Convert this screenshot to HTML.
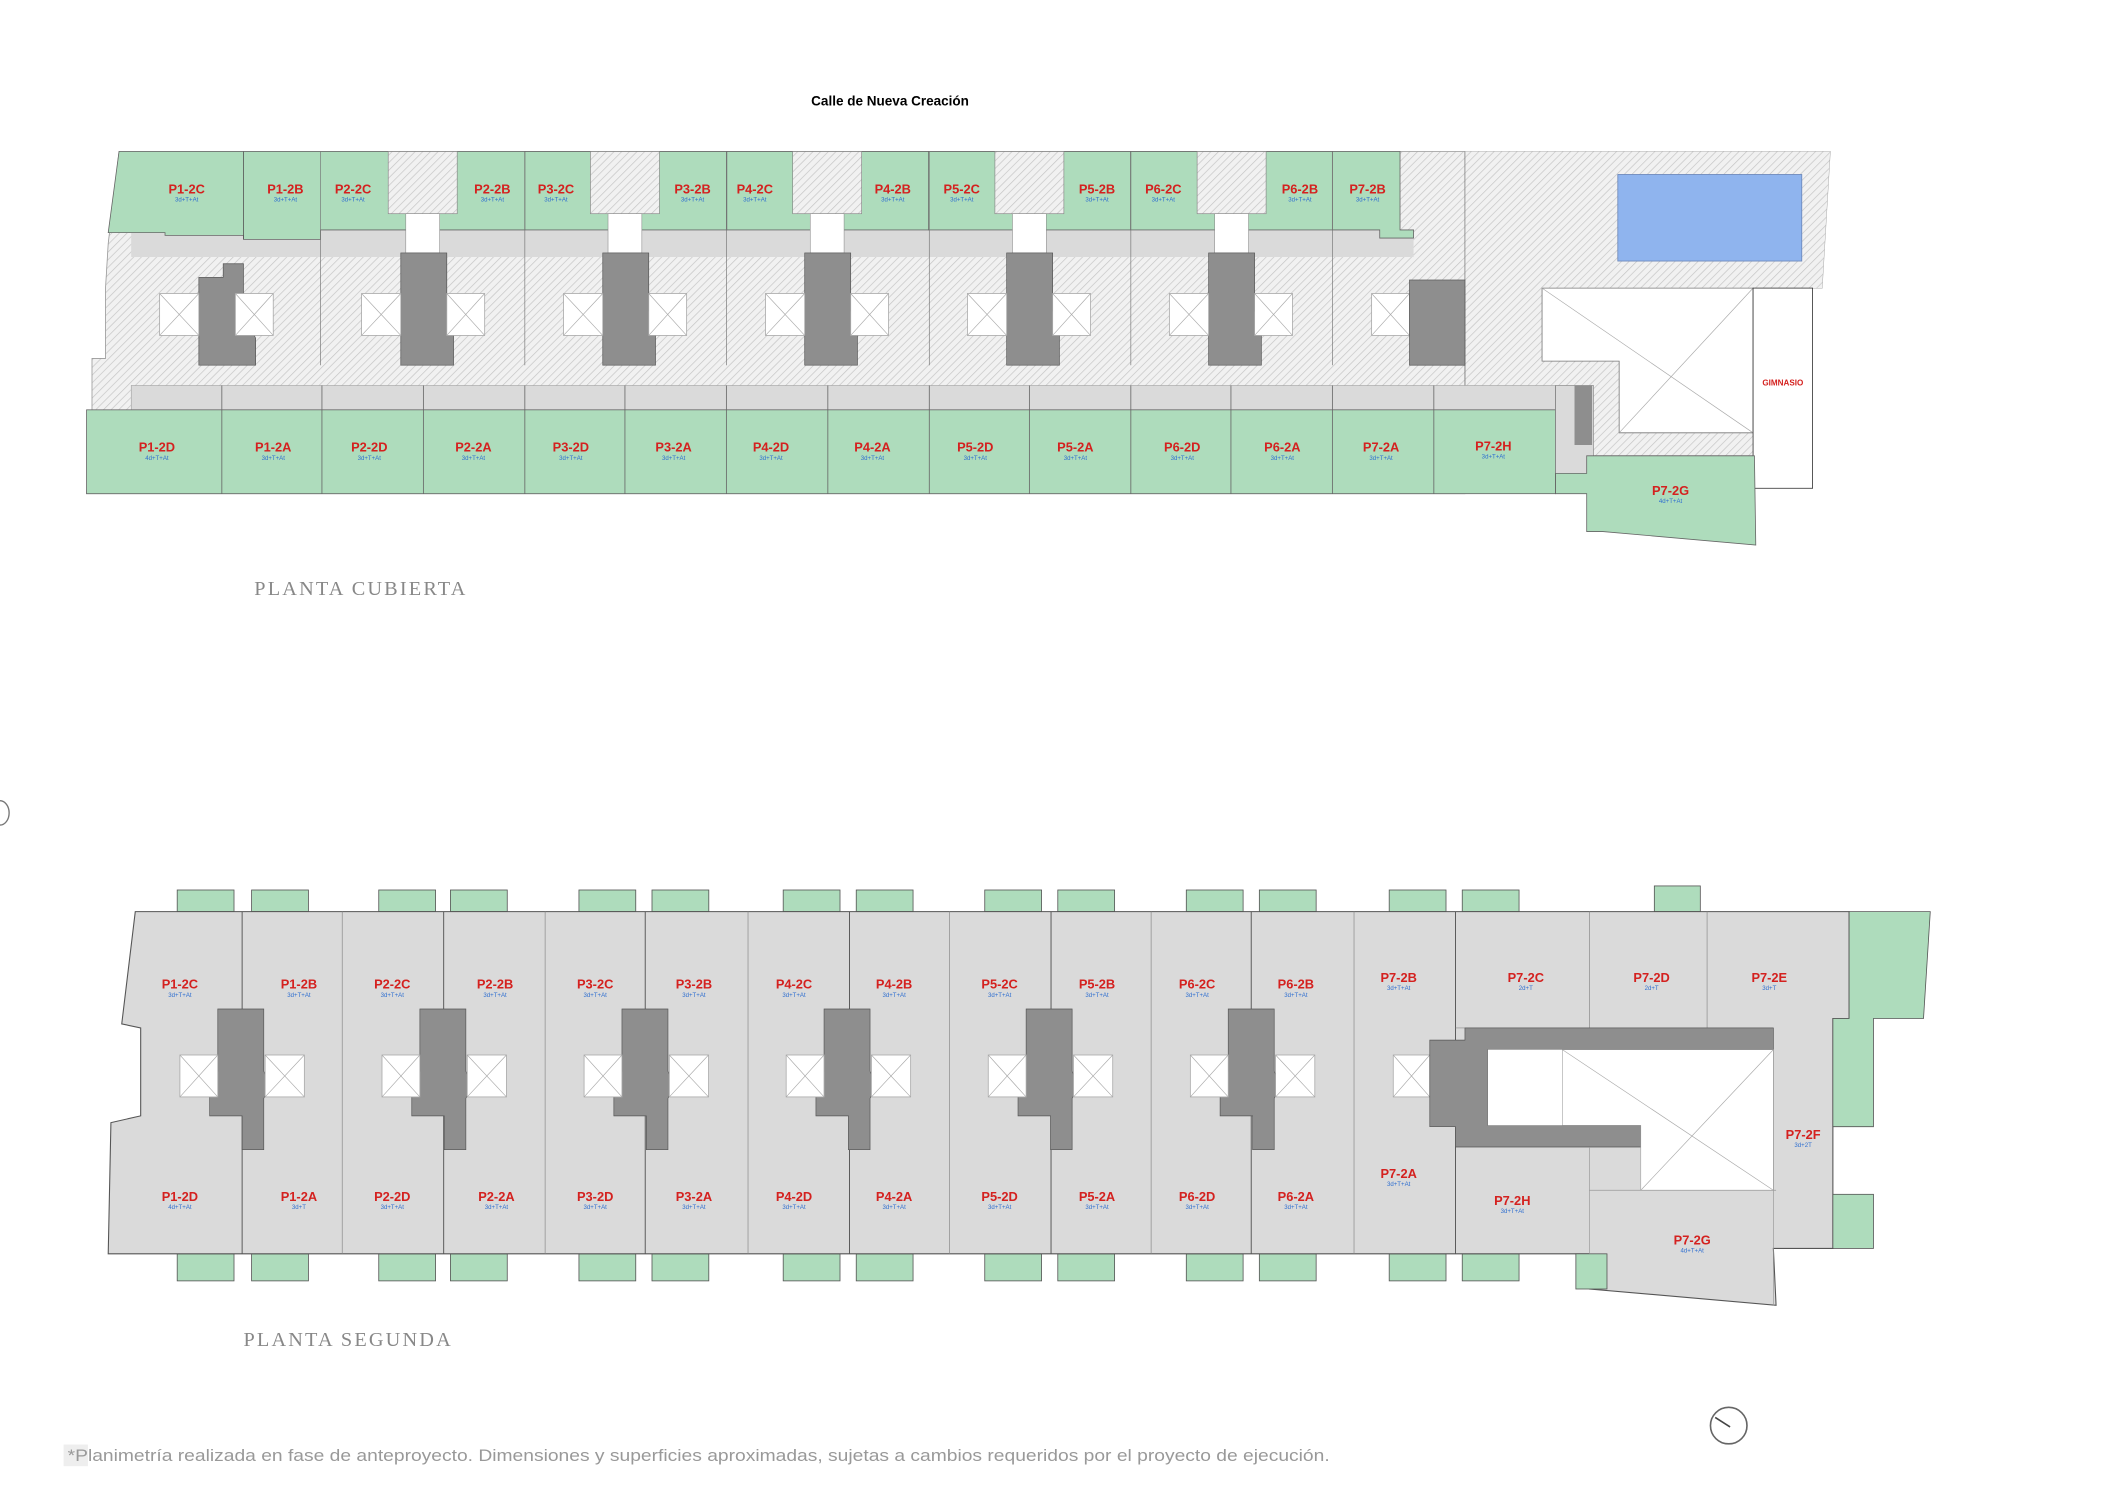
<!DOCTYPE html>
<html><head><meta charset="utf-8"><style>
html,body{margin:0;padding:0;background:#fff;width:2121px;height:1500px;overflow:hidden}
svg{display:block}
.l{font-family:"Liberation Sans",sans-serif;font-weight:bold;fill:#d4211f;font-size:9.5px;text-anchor:middle}
.s{font-family:"Liberation Sans",sans-serif;fill:#2f6fd0;font-size:4.5px;text-anchor:middle}
.t{font-family:"Liberation Serif",serif;fill:#888;font-size:15px;letter-spacing:1.6px}
</style></head><body>
<svg width="2121" height="1500" viewBox="0 0 1568 1109" preserveAspectRatio="none" xmlns="http://www.w3.org/2000/svg">
<defs>
<pattern id="h" width="4" height="4" patternUnits="userSpaceOnUse" patternTransform="rotate(45)">
<rect width="4" height="4" fill="#f1f1f1"/><line x1="0" y1="0" x2="0" y2="4" stroke="#c4c4c4" stroke-width="1"/>
</pattern>
</defs>
<g id="shapes"></g>
<text x="658" y="78" font-family="Liberation Sans,sans-serif" font-weight="bold" font-size="10" text-anchor="middle">Calle de Nueva Creación</text>

<g>
<text class="l" x="138" y="143">P1-2C</text><text class="s" x="138" y="149">3d+T+At</text>
<text class="l" x="211" y="143">P1-2B</text><text class="s" x="211" y="149">3d+T+At</text>
<text class="l" x="261" y="143">P2-2C</text><text class="s" x="261" y="149">3d+T+At</text>
<text class="l" x="364" y="143">P2-2B</text><text class="s" x="364" y="149">3d+T+At</text>
<text class="l" x="411" y="143">P3-2C</text><text class="s" x="411" y="149">3d+T+At</text>
<text class="l" x="512" y="143">P3-2B</text><text class="s" x="512" y="149">3d+T+At</text>
<text class="l" x="558" y="143">P4-2C</text><text class="s" x="558" y="149">3d+T+At</text>
<text class="l" x="660" y="143">P4-2B</text><text class="s" x="660" y="149">3d+T+At</text>
<text class="l" x="711" y="143">P5-2C</text><text class="s" x="711" y="149">3d+T+At</text>
<text class="l" x="811" y="143">P5-2B</text><text class="s" x="811" y="149">3d+T+At</text>
<text class="l" x="860" y="143">P6-2C</text><text class="s" x="860" y="149">3d+T+At</text>
<text class="l" x="961" y="143">P6-2B</text><text class="s" x="961" y="149">3d+T+At</text>
<text class="l" x="1011" y="143">P7-2B</text><text class="s" x="1011" y="149">3d+T+At</text>
<text class="l" x="116" y="334">P1-2D</text><text class="s" x="116" y="340">4d+T+At</text>
<text class="l" x="202" y="334">P1-2A</text><text class="s" x="202" y="340">3d+T+At</text>
<text class="l" x="273" y="334">P2-2D</text><text class="s" x="273" y="340">3d+T+At</text>
<text class="l" x="350" y="334">P2-2A</text><text class="s" x="350" y="340">3d+T+At</text>
<text class="l" x="422" y="334">P3-2D</text><text class="s" x="422" y="340">3d+T+At</text>
<text class="l" x="498" y="334">P3-2A</text><text class="s" x="498" y="340">3d+T+At</text>
<text class="l" x="570" y="334">P4-2D</text><text class="s" x="570" y="340">3d+T+At</text>
<text class="l" x="645" y="334">P4-2A</text><text class="s" x="645" y="340">3d+T+At</text>
<text class="l" x="721" y="334">P5-2D</text><text class="s" x="721" y="340">3d+T+At</text>
<text class="l" x="795" y="334">P5-2A</text><text class="s" x="795" y="340">3d+T+At</text>
<text class="l" x="874" y="334">P6-2D</text><text class="s" x="874" y="340">3d+T+At</text>
<text class="l" x="948" y="334">P6-2A</text><text class="s" x="948" y="340">3d+T+At</text>
<text class="l" x="1021" y="334">P7-2A</text><text class="s" x="1021" y="340">3d+T+At</text>
<text class="l" x="1104" y="333">P7-2H</text><text class="s" x="1104" y="339">3d+T+At</text>
<text class="l" x="1235" y="366">P7-2G</text><text class="s" x="1235" y="372">4d+T+At</text>
<text x="1318" y="285" font-family="Liberation Sans,sans-serif" font-weight="bold" font-size="6" fill="#d4211f" text-anchor="middle">GIMNASIO</text>
</g>
<text class="t" x="188" y="440">PLANTA CUBIERTA</text>

<g>
<text class="l" x="133" y="731">P1-2C</text><text class="s" x="133" y="737">3d+T+At</text>
<text class="l" x="221" y="731">P1-2B</text><text class="s" x="221" y="737">3d+T+At</text>
<text class="l" x="290" y="731">P2-2C</text><text class="s" x="290" y="737">3d+T+At</text>
<text class="l" x="366" y="731">P2-2B</text><text class="s" x="366" y="737">3d+T+At</text>
<text class="l" x="440" y="731">P3-2C</text><text class="s" x="440" y="737">3d+T+At</text>
<text class="l" x="513" y="731">P3-2B</text><text class="s" x="513" y="737">3d+T+At</text>
<text class="l" x="587" y="731">P4-2C</text><text class="s" x="587" y="737">3d+T+At</text>
<text class="l" x="661" y="731">P4-2B</text><text class="s" x="661" y="737">3d+T+At</text>
<text class="l" x="739" y="731">P5-2C</text><text class="s" x="739" y="737">3d+T+At</text>
<text class="l" x="811" y="731">P5-2B</text><text class="s" x="811" y="737">3d+T+At</text>
<text class="l" x="885" y="731">P6-2C</text><text class="s" x="885" y="737">3d+T+At</text>
<text class="l" x="958" y="731">P6-2B</text><text class="s" x="958" y="737">3d+T+At</text>
<text class="l" x="1034" y="726">P7-2B</text><text class="s" x="1034" y="732">3d+T+At</text>
<text class="l" x="1128" y="726">P7-2C</text><text class="s" x="1128" y="732">2d+T</text>
<text class="l" x="1221" y="726">P7-2D</text><text class="s" x="1221" y="732">2d+T</text>
<text class="l" x="1308" y="726">P7-2E</text><text class="s" x="1308" y="732">3d+T</text>
<text class="l" x="133" y="888">P1-2D</text><text class="s" x="133" y="894">4d+T+At</text>
<text class="l" x="221" y="888">P1-2A</text><text class="s" x="221" y="894">3d+T</text>
<text class="l" x="290" y="888">P2-2D</text><text class="s" x="290" y="894">3d+T+At</text>
<text class="l" x="367" y="888">P2-2A</text><text class="s" x="367" y="894">3d+T+At</text>
<text class="l" x="440" y="888">P3-2D</text><text class="s" x="440" y="894">3d+T+At</text>
<text class="l" x="513" y="888">P3-2A</text><text class="s" x="513" y="894">3d+T+At</text>
<text class="l" x="587" y="888">P4-2D</text><text class="s" x="587" y="894">3d+T+At</text>
<text class="l" x="661" y="888">P4-2A</text><text class="s" x="661" y="894">3d+T+At</text>
<text class="l" x="739" y="888">P5-2D</text><text class="s" x="739" y="894">3d+T+At</text>
<text class="l" x="811" y="888">P5-2A</text><text class="s" x="811" y="894">3d+T+At</text>
<text class="l" x="885" y="888">P6-2D</text><text class="s" x="885" y="894">3d+T+At</text>
<text class="l" x="958" y="888">P6-2A</text><text class="s" x="958" y="894">3d+T+At</text>
<text class="l" x="1034" y="871">P7-2A</text><text class="s" x="1034" y="877">3d+T+At</text>
<text class="l" x="1118" y="891">P7-2H</text><text class="s" x="1118" y="897">3d+T+At</text>
<text class="l" x="1251" y="920">P7-2G</text><text class="s" x="1251" y="926">4d+T+At</text>
<text class="l" x="1333" y="842">P7-2F</text><text class="s" x="1333" y="848">3d+2T</text>
</g>
<text class="t" x="180" y="995">PLANTA SEGUNDA</text>
<circle cx="1278" cy="1054" r="13.5" fill="none" stroke="#666" stroke-width="1.2"/>
<line x1="1279" y1="1055" x2="1268" y2="1048" stroke="#444" stroke-width="1.2"/>
<rect x="47" y="1068" width="18" height="16" fill="#eee"/>
<text x="50" y="1080" font-family="Liberation Sans,sans-serif" font-size="12.5" fill="#999" textLength="933" lengthAdjust="spacingAndGlyphs">*Planimetría realizada en fase de anteproyecto. Dimensiones y superficies aproximadas, sujetas a cambios requeridos por el proyecto de ejecución.</text>
</svg>
<script>
var NS="http://www.w3.org/2000/svg",G=document.getElementById("shapes");
function el(t,a){var e=document.createElementNS(NS,t);for(var k in a)e.setAttribute(k,a[k]);G.appendChild(e);return e}
function R(x,y,w,h,f,s,sw){return el("rect",{x:x,y:y,width:w,height:h,fill:f,stroke:s||"none","stroke-width":sw||0.6})}
function P(p,f,s,sw){return el("polygon",{points:p,fill:f,stroke:s||"none","stroke-width":sw||0.6})}
function L(a,b,c,d,s,w){return el("line",{x1:a,y1:b,x2:c,y2:d,stroke:s||"#555","stroke-width":w||0.6})}
function X(x,y,w,h){R(x,y,w,h,"#fff","#aaa",0.6);L(x,y,x+w,y+h,"#aaa",0.5);L(x+w,y,x,y+h,"#aaa",0.5)}
var GR="#aedcbc",HT="url(#h)",LG="#dadada",DK="#8e8e8e";
/* TOP PLAN */
P("88,112 1083,112 1083,303 1150,303 1150,350 1173,350 1173,337 1297,337 1297,320 1296,213 1340,213 1347,213 1353,112 1083,112 1083,365 64,365 68,303 68,265 78,265 78,213 80,180",HT,"#999",0.6);
P("88,112 1353,112 1347,213 1083,213 1083,112",HT);
R(97,170,948,20,LG);
P("88,112 388,112 388,170 237,170 237,177 180,177 180,174 122,174 122,172 80,172",GR,"#666",0.6);
for(var k=0;k<4;k++){var b=388+k*149.3;R(b,112,149.3,58,GR,"#666",0.6);}
P("985,112 1035,112 1035,170 1045,170 1045,176 1020,176 1020,170 985,170",GR,"#666",0.6);
L(180,112,180,177,"#555");
[237,388,537,687,836,985].forEach(function(x){L(x,112,x,270,"#777",0.5)});
L(1083,112,1083,285,"#777",0.5);
for(var k=0;k<5;k++){var x=287+k*149.5;R(x,112,51,46,HT,"#888",0.5);R(x+13,158,25,29,"#fff","#888",0.4);}
for(var k=0;k<6;k++){var b=118+k*149.3,c0=b+29,c1=b+63;
 if(k==0){P("147,205 165,205 165,195 180,195 180,232 189,250 189,270 147,270",DK,"#555",0.5)}
 else P(c0+",187 "+c1+",187 "+c1+",230 "+(c1+5)+",246 "+(c1+5)+",270 "+c0+",270",DK,"#555",0.5);
 X(b,217,29,31);X(c1+(k==0?-7:0),217,28,31);}
X(1014,217,28,31);R(1042,207,41,63,DK,"#555",0.5);
R(97,285,1053,18,LG,"#999",0.4);
R(64,303,1086,62,GR,"#666",0.6);
[164,238,313,388,462,537,612,687,761,836,910,985,1060,1150].forEach(function(x){L(x,285,x,365,"#666",0.6)});
P("1140,213 1296,213 1296,320 1197,320 1197,267 1140,267","#fff","#777",0.6);
L(1140,213,1296,320,"#aaa",0.5);L(1296,213,1197,320,"#aaa",0.5);
R(1296,213,44,148,"#fff","#333",0.6);
R(1196,129,136,64,"#8fb4ee","#6a86b8",0.6);
R(1150,285,28,65,LG,"#888",0.5);R(1164,285,13,44,DK);
P("1150,350 1173,350 1173,337 1297,337 1298,403 1185,393 1173,393 1173,365 1150,365",GR,"#666",0.6);
/* BOTTOM PLAN */
var bx=[131,186,280,333,428,482,579,633,728,782,877,931,1027,1081];
bx.forEach(function(x){R(x,658,42,16,GR,"#555",0.6);R(x,927,42,20,GR,"#555",0.6)});
R(1223,655,34,19,GR,"#555",0.6);
P("100,674 1367,674 1367,753 1355,753 1355,923 1311,923 1313,965 1175,953 1175,927 80,927 82,830 104,825 104,760 90,757 100,674",LG,"#555",0.8);
P("1367,674 1427,674 1422,753 1385,753 1385,833 1355,833 1355,753 1367,753",GR,"#555",0.6);
R(1355,883,30,40,GR,"#555",0.6);R(1165,927,23,26,GR,"#555",0.6);
[179,253,328,403,477,553,628,702,777,851,925,1001,1076].forEach(function(x,i){L(x,674,x,927,i%2?"#888":"#555",i%2?0.5:0.7)});
L(1175,674,1175,760,"#888",0.5);L(1262,674,1262,760,"#888",0.5);
L(1076,760,1311,760,"#888",0.4);
for(var k=0;k<6;k++){var b=133+k*149.4,c0=b+28,c1=b+62;
 P(c0+",746 "+c1+",746 "+c1+",792 "+(c1+5)+",803 "+c1+",812 "+c1+",850 "+(c0+18)+",850 "+(c0+18)+",825 "+(c0-6)+",825 "+(c0-6)+",792 "+c0+",792",DK,"#555",0.5);
 X(b,780,28,31);X(c1+1,780,29,31);}
X(1030,780,27,31);
P("1057,769 1083,769 1083,760 1311,760 1311,776 1100,776 1100,832 1213,832 1213,848 1076,848 1076,833 1057,833",DK,"#555",0.5);
R(1100,776,55,56,"#fff");
P("1155,776 1311,776 1311,880 1213,880 1213,832 1155,832","#fff","#999",0.4);
L(1155,776,1311,880,"#aaa",0.5);L(1311,776,1213,880,"#aaa",0.5);
L(1311,776,1311,965,"#999",0.5);L(1175,880,1313,880,"#999",0.5);L(1175,848,1175,927,"#999",0.5);
el("path",{d:"M0,592 A6,8 0 0 1 0,610",fill:"none",stroke:"#777","stroke-width":1});
</script>
</body></html>
